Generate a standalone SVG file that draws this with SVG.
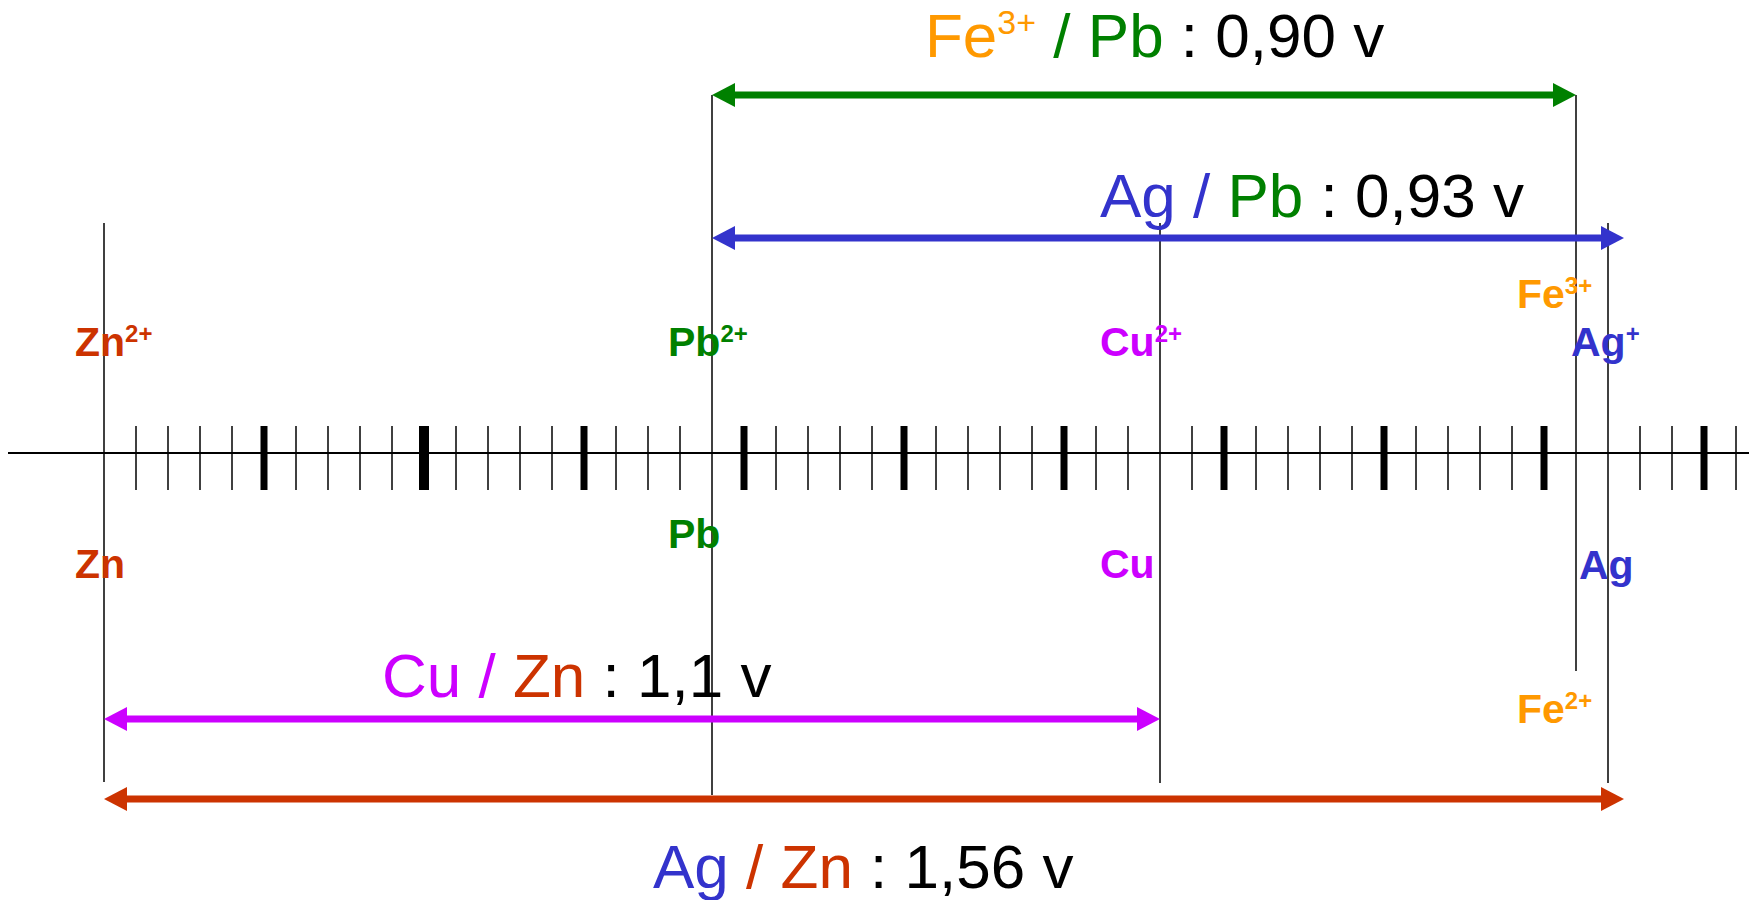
<svg xmlns="http://www.w3.org/2000/svg" width="1749" height="900" viewBox="0 0 1749 900">
<style>
text{font-family:"Liberation Sans",Arial,sans-serif}
.lbl{font-size:41px;font-weight:bold}
.lsup{font-size:24px;font-weight:bold}
.ttl{font-size:62px}
.tsup{font-size:34px}
.vl{stroke:#000;stroke-width:1.5;fill:none}
.tk{stroke:#000;stroke-width:1.5}
.tkb{stroke:#000;stroke-width:7}
.arr{stroke-width:7;fill:none}
.zn{fill:#CC3300}.pb{fill:#008000}.cu{fill:#CC00FF}.ag{fill:#3333CC}.fe{fill:#FF9900}.bk{fill:#000}
</style>
<defs>
<marker id="hG" viewBox="0 0 23 24" refX="13" refY="12" markerWidth="23" markerHeight="24" markerUnits="userSpaceOnUse" orient="auto-start-reverse"><path d="M0,0L23,12L0,24z" fill="#008000"/></marker>
<marker id="hB" viewBox="0 0 23 24" refX="13" refY="12" markerWidth="23" markerHeight="24" markerUnits="userSpaceOnUse" orient="auto-start-reverse"><path d="M0,0L23,12L0,24z" fill="#3333CC"/></marker>
<marker id="hM" viewBox="0 0 23 24" refX="13" refY="12" markerWidth="23" markerHeight="24" markerUnits="userSpaceOnUse" orient="auto-start-reverse"><path d="M0,0L23,12L0,24z" fill="#CC00FF"/></marker>
<marker id="hR" viewBox="0 0 23 24" refX="13" refY="12" markerWidth="23" markerHeight="24" markerUnits="userSpaceOnUse" orient="auto-start-reverse"><path d="M0,0L23,12L0,24z" fill="#CC3300"/></marker>
</defs>
<rect width="1749" height="900" fill="#fff"/>
<g id="axis">
<line x1="8" y1="453" x2="1749" y2="453" stroke="#000" stroke-width="2"/>
<g id="ticks">
<line class="tk" x1="136" y1="426" x2="136" y2="490"/>
<line class="tk" x1="168" y1="426" x2="168" y2="490"/>
<line class="tk" x1="200" y1="426" x2="200" y2="490"/>
<line class="tk" x1="232" y1="426" x2="232" y2="490"/>
<line class="tkb" x1="264" y1="426" x2="264" y2="490"/>
<line class="tk" x1="296" y1="426" x2="296" y2="490"/>
<line class="tk" x1="328" y1="426" x2="328" y2="490"/>
<line class="tk" x1="360" y1="426" x2="360" y2="490"/>
<line class="tk" x1="392" y1="426" x2="392" y2="490"/>
<line class="tkb" x1="424" y1="426" x2="424" y2="490" style="stroke-width:10"/>
<line class="tk" x1="456" y1="426" x2="456" y2="490"/>
<line class="tk" x1="488" y1="426" x2="488" y2="490"/>
<line class="tk" x1="520" y1="426" x2="520" y2="490"/>
<line class="tk" x1="552" y1="426" x2="552" y2="490"/>
<line class="tkb" x1="584" y1="426" x2="584" y2="490"/>
<line class="tk" x1="616" y1="426" x2="616" y2="490"/>
<line class="tk" x1="648" y1="426" x2="648" y2="490"/>
<line class="tk" x1="680" y1="426" x2="680" y2="490"/>
<line class="tkb" x1="744" y1="426" x2="744" y2="490"/>
<line class="tk" x1="776" y1="426" x2="776" y2="490"/>
<line class="tk" x1="808" y1="426" x2="808" y2="490"/>
<line class="tk" x1="840" y1="426" x2="840" y2="490"/>
<line class="tk" x1="872" y1="426" x2="872" y2="490"/>
<line class="tkb" x1="904" y1="426" x2="904" y2="490"/>
<line class="tk" x1="936" y1="426" x2="936" y2="490"/>
<line class="tk" x1="968" y1="426" x2="968" y2="490"/>
<line class="tk" x1="1000" y1="426" x2="1000" y2="490"/>
<line class="tk" x1="1032" y1="426" x2="1032" y2="490"/>
<line class="tkb" x1="1064" y1="426" x2="1064" y2="490"/>
<line class="tk" x1="1096" y1="426" x2="1096" y2="490"/>
<line class="tk" x1="1128" y1="426" x2="1128" y2="490"/>
<line class="tk" x1="1192" y1="426" x2="1192" y2="490"/>
<line class="tkb" x1="1224" y1="426" x2="1224" y2="490"/>
<line class="tk" x1="1256" y1="426" x2="1256" y2="490"/>
<line class="tk" x1="1288" y1="426" x2="1288" y2="490"/>
<line class="tk" x1="1320" y1="426" x2="1320" y2="490"/>
<line class="tk" x1="1352" y1="426" x2="1352" y2="490"/>
<line class="tkb" x1="1384" y1="426" x2="1384" y2="490"/>
<line class="tk" x1="1416" y1="426" x2="1416" y2="490"/>
<line class="tk" x1="1448" y1="426" x2="1448" y2="490"/>
<line class="tk" x1="1480" y1="426" x2="1480" y2="490"/>
<line class="tk" x1="1512" y1="426" x2="1512" y2="490"/>
<line class="tkb" x1="1544" y1="426" x2="1544" y2="490"/>
<line class="tk" x1="1640" y1="426" x2="1640" y2="490"/>
<line class="tk" x1="1672" y1="426" x2="1672" y2="490"/>
<line class="tkb" x1="1704" y1="426" x2="1704" y2="490"/>
<line class="tk" x1="1736" y1="426" x2="1736" y2="490"/>
</g>
</g>
<g id="connectors">
<line class="vl" x1="104" y1="223" x2="104" y2="782"/>
<line class="vl" x1="712" y1="95" x2="712" y2="795"/>
<line class="vl" x1="1160" y1="223" x2="1160" y2="783"/>
<line class="vl" x1="1576" y1="95" x2="1576" y2="671"/>
<line class="vl" x1="1608" y1="223" x2="1608" y2="783"/>
<line class="arr" stroke="#008000" x1="722" y1="95" x2="1566" y2="95" marker-start="url(#hG)" marker-end="url(#hG)"/>
<line class="arr" stroke="#3333CC" x1="722" y1="238" x2="1614" y2="238" marker-start="url(#hB)" marker-end="url(#hB)"/>
<line class="arr" stroke="#CC00FF" x1="114" y1="719" x2="1150" y2="719" marker-start="url(#hM)" marker-end="url(#hM)"/>
<line class="arr" stroke="#CC3300" x1="114" y1="799" x2="1614" y2="799" marker-start="url(#hR)" marker-end="url(#hR)"/>
</g>
<g id="node-zn">
<text class="lbl zn" x="75" y="356">Zn<tspan class="lsup" dy="-14">2+</tspan></text>
<text class="lbl zn" x="75" y="578">Zn</text>
</g>
<g id="node-pb">
<text class="lbl pb" x="668" y="356">Pb<tspan class="lsup" dy="-14">2+</tspan></text>
<text class="lbl pb" x="668" y="548">Pb</text>
</g>
<g id="node-cu">
<text class="lbl cu" x="1100" y="356">Cu<tspan class="lsup" dy="-14">2+</tspan></text>
<text class="lbl cu" x="1100" y="578">Cu</text>
</g>
<g id="node-fe">
<text class="lbl fe" x="1517" y="308">Fe<tspan class="lsup" dy="-14">3+</tspan></text>
<text class="lbl fe" x="1517" y="723">Fe<tspan class="lsup" dy="-14">2+</tspan></text>
</g>
<g id="node-ag">
<text class="lbl ag" x="1571" y="356">Ag<tspan class="lsup" dy="-14">+</tspan></text>
<text class="lbl ag" x="1579" y="579">Ag</text>
</g>
<g id="label-fe-pb">
<text class="ttl" x="925" y="57"><tspan class="fe">Fe</tspan><tspan class="fe tsup" dy="-23">3+</tspan><tspan class="pb" dy="23"> / Pb</tspan><tspan class="bk"> : 0,90 v</tspan></text>
</g>
<g id="label-ag-pb">
<text class="ttl" x="1100" y="217"><tspan class="ag">Ag / </tspan><tspan class="pb">Pb</tspan><tspan class="bk"> : 0,93 v</tspan></text>
</g>
<g id="label-cu-zn">
<text class="ttl" x="382" y="697"><tspan class="cu">Cu / </tspan><tspan class="zn">Zn</tspan><tspan class="bk"> : 1,1 v</tspan></text>
</g>
<g id="label-ag-zn">
<text class="ttl" x="653" y="888"><tspan class="ag">Ag</tspan><tspan class="zn"> / Zn</tspan><tspan class="bk"> : 1,56 v</tspan></text>
</g>
</svg>
